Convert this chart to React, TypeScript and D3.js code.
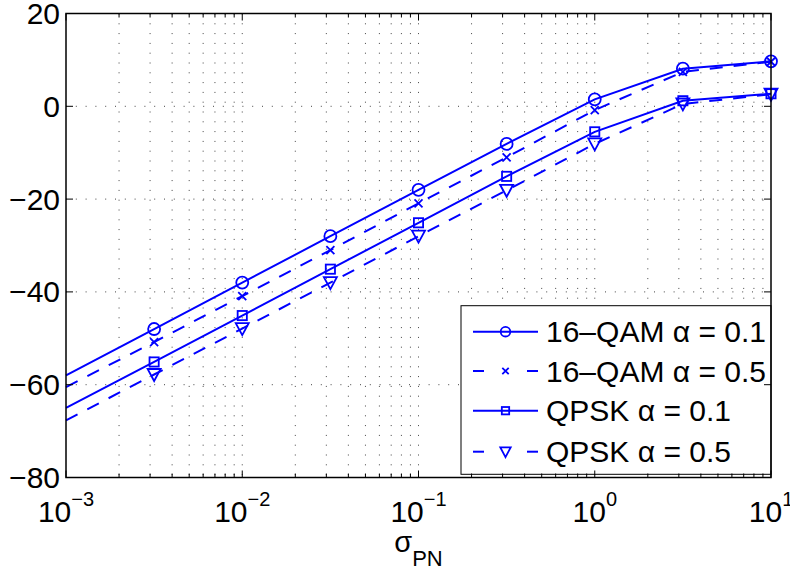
import React from "react";
import * as d3 from "d3";

const xExponents = [-3, -2.5, -2, -1.5, -1, -0.5, 0, 0.5, 1];
const qam01 = [-58, -48, -38, -28, -18, -8.1, 1.5, 8.1, 9.7];
const qam05 = [-60.5, -50.8, -40.9, -31, -20.9, -11, -0.8, 7.4, 9.6];
const qpsk01 = [-65, -55.1, -45.1, -35.1, -25.1, -15.1, -5.5, 1.2, 2.7];
const qpsk05 = [-67.7, -57.8, -47.9, -38, -28, -18.1, -8.1, 0.5, 2.6];
const seriesNames = ["16\u2013QAM \u03b1 = 0.1", "16\u2013QAM \u03b1 = 0.5", "QPSK \u03b1 = 0.1", "QPSK \u03b1 = 0.5"];
const seriesMarkers = ["circle", "x", "square", "triangle"];
const seriesDashed = [false, true, false, true];
const yTickValues = [-80, -60, -40, -20, 0, 20];
const xMajorExps = [-3, -2, -1, 0, 1];

const W = 790;
const H = 571;
const L = 66, R = 771, T = 13.5, B = 477.5;
const BLUE = "#0000ff";
const FONT = "'Liberation Sans', Arial, Helvetica, sans-serif";

function Marker({ kind, cx, cy, s = 1 }: { kind: string; cx: number; cy: number; s?: number }) {
  const sw = 1.8;
  if (kind === "circle") return <circle cx={cx} cy={cy} r={6 * s} fill="none" stroke={BLUE} strokeWidth={sw} />;
  if (kind === "square") {
    const h = 4.6 * s;
    return <rect x={cx - h} y={cy - h} width={2 * h} height={2 * h} fill="none" stroke={BLUE} strokeWidth={sw} />;
  }
  if (kind === "x") {
    const h = 4 * s;
    return (
      <path d={`M${cx - h},${cy - h}L${cx + h},${cy + h}M${cx - h},${cy + h}L${cx + h},${cy - h}`} stroke={BLUE} strokeWidth={sw} fill="none" />
    );
  }
  const w = 6.5 * s, h = 5.5 * s;
  return <path d={`M${cx - w},${cy - h}L${cx + w},${cy - h}L${cx},${cy + h + 1}Z`} fill="none" stroke={BLUE} strokeWidth={sw} />;
}

export default function App() {
  const x = d3.scaleLog().domain([1e-3, 10]).range([L, R]);
  const y = d3.scaleLinear().domain([-80, 20]).range([B, T]);
  const xs = xExponents.map((e) => Math.pow(10, e));
  const allSeries = [qam01, qam05, qpsk01, qpsk05];
  const line = d3
    .line<number>()
    .x((_, i) => x(xs[i]))
    .y((d) => y(d));

  const xGrid = x.ticks().filter((v) => v > 1e-3 * 1.0001 && v < 10 * 0.9999);
  const allXTicks = x.ticks();
  const isMajor = (v: number) => Math.abs(Math.log10(v) - Math.round(Math.log10(v))) < 1e-6;
  const yGrid = yTickValues.filter((v) => v > -80 && v < 20);

  const legendX = 461, legendY = 305.7, legendW = 310, legendH = 168.6;
  const rowYs = [331.7, 371, 410.7, 451.7];

  return (
    <svg width={W} height={H} style={{ position: "absolute", left: 0, top: 0, background: "#fff" }} fontFamily={FONT}>
      <rect x={0} y={0} width={W} height={H} fill="#fff" />
      {/* grid */}
      <g stroke="#444" strokeWidth={1} strokeDasharray="1 8.8">
        {xGrid.map((v, i) => (
          <line key={"gx" + i} x1={x(v)} x2={x(v)} y1={T} y2={B} />
        ))}
        {yGrid.map((v, i) => (
          <line key={"gy" + i} x1={L} x2={R} y1={y(v)} y2={y(v)} />
        ))}
      </g>
      {/* data */}
      {allSeries.map((s, k) => (
        <g key={"s" + k}>
          <path d={line(s) || ""} fill="none" stroke={BLUE} strokeWidth={2} strokeDasharray={seriesDashed[k] ? "13 11" : undefined} />
          {s.map((v, i) => (i === 0 ? null : <Marker key={i} kind={seriesMarkers[k]} cx={x(xs[i])} cy={y(v)} />))}
        </g>
      ))}
      {/* legend */}
      <rect x={legendX} y={legendY} width={legendW} height={legendH} fill="#fff" stroke="#000" strokeWidth={1} />
      {seriesNames.map((name, k) => {
        const cy = rowYs[k];
        return (
          <g key={"l" + k}>
            {seriesDashed[k] ? (
              <g stroke={BLUE} strokeWidth={2}>
                <line x1={473} x2={484} y1={cy} y2={cy} />
                <line x1={527} x2={538} y1={cy} y2={cy} />
              </g>
            ) : (
              <line x1={473} x2={538} y1={cy} y2={cy} stroke={BLUE} strokeWidth={2} />
            )}
            <Marker kind={seriesMarkers[k]} cx={505.5} cy={cy} s={0.8} />
            <text x={546} y={cy + 10.5} fontSize={30} fill="#000">
              {name}
            </text>
          </g>
        );
      })}
      {/* frame */}
      <rect x={L} y={T} width={R - L} height={B - T} fill="none" stroke="#000" strokeWidth={1.5} />
      <g stroke="#000" strokeWidth={1}>
        {allXTicks.map((v, i) => {
          const len = isMajor(v) ? 7 : 4;
          const px = x(v);
          return (
            <g key={"tx" + i}>
              <line x1={px} x2={px} y1={B} y2={B - len} />
              <line x1={px} x2={px} y1={T} y2={T + len} />
            </g>
          );
        })}
        {yTickValues.map((v, i) => (
          <g key={"ty" + i}>
            <line x1={L} x2={L + 7} y1={y(v)} y2={y(v)} />
            <line x1={R} x2={R - 7} y1={y(v)} y2={y(v)} />
          </g>
        ))}
      </g>
      {/* y tick labels */}
      {yTickValues.map((v, i) => (
        <text key={"yl" + i} x={60} y={y(v) + 10.5} textAnchor="end" fontSize={30} fill="#000">
          {v < 0 ? "\u2212" + Math.abs(v) : String(v)}
        </text>
      ))}
      {/* x tick labels */}
      {xMajorExps.map((e, i) => (
        <text key={"xl" + i} x={x(Math.pow(10, e))} y={521.5} textAnchor="middle" fontSize={30} fill="#000">
          10
          <tspan dy={-16} fontSize={20}>
            {e < 0 ? "\u2212" + Math.abs(e) : String(e)}
          </tspan>
        </text>
      ))}
      {/* x axis label */}
      <text x={418.5} y={552} textAnchor="middle" fontSize={29} fill="#000">
        {"\u03c3"}
        <tspan dy={14} fontSize={22}>
          PN
        </tspan>
      </text>
    </svg>
  );
}
